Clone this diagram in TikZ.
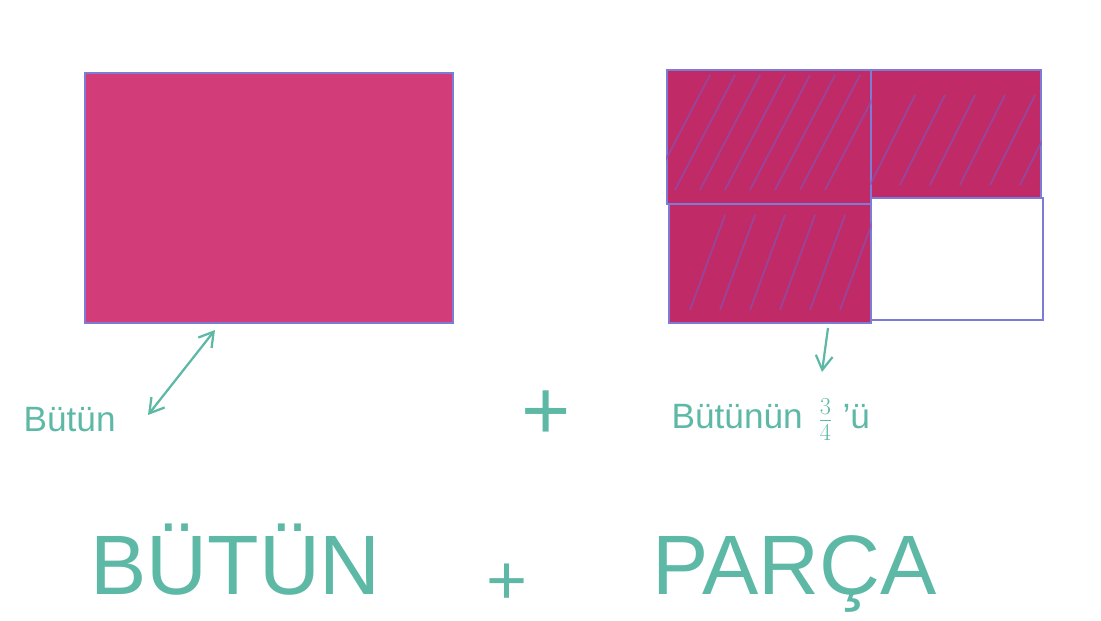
\documentclass[tikz,border=0pt]{standalone}
\usepackage{fontspec}
\setmainfont{Liberation Sans}
\usepackage{xcolor}
\usetikzlibrary{arrows.meta,positioning}

\definecolor{marker}{HTML}{D23C78}
\definecolor{markerdark}{HTML}{C02A66}
\definecolor{pencil}{HTML}{7C7CD6}
\definecolor{hatch}{HTML}{8A4FB0}
\definecolor{teal}{HTML}{5DB9A6}

\begin{document}
\begin{tikzpicture}[x=0.025cm, y=-0.025cm,
  whole/.style={draw=pencil, line width=1.2pt, fill=marker, rectangle,
                minimum width=9.2cm, minimum height=6.25cm, inner sep=0pt},
  cell/.style={draw=pencil, line width=1.2pt, rectangle, inner sep=0pt},
  done/.style={fill=markerdark},
  lbl/.style={text=teal, font=\fontsize{25}{27}\selectfont, inner sep=1pt},
  big/.style={text=teal, font=\fontsize{60}{62}\selectfont, inner sep=0pt},
  arr/.style={-{Straight Barb[length=10pt,width=12pt]}, draw=teal, line width=1.6pt}
]
\useasboundingbox (0,0) rectangle (1101,620);

% the whole
\node[whole, anchor=north west] (wholebox) at (84,72) {};

% the four quarters
\node[cell, done, anchor=north west, minimum width=5.1cm, minimum height=3.35cm] (q1) at (666,69) {};
\node[cell, done, anchor=north west, minimum width=4.25cm, minimum height=3.2cm] (q2) at (870,69) {};
\node[cell, done, anchor=north west, minimum width=5.05cm, minimum height=2.98cm] (q3) at (668,203) {};
\node[cell, anchor=north west, minimum width=4.3cm, minimum height=3.05cm] (q4) at (870,197) {};

% hatching
\begin{scope}[draw=hatch, line width=1.3pt, opacity=0.7]
  \clip (q1.north west) rectangle (q1.south east);
  \foreach \s in {690,715,...,880}
    \draw (\s-40,190) -- (\s+20,75);
\end{scope}
\begin{scope}[draw=hatch, line width=1.3pt, opacity=0.7]
  \clip (q2.north west) rectangle (q2.south east);
  \foreach \s in {890,920,...,1040}
    \draw (\s-20,185) -- (\s+25,95);
\end{scope}
\begin{scope}[draw=hatch, line width=1.3pt, opacity=0.7]
  \clip (q3.north west) rectangle (q3.south east);
  \foreach \s in {690,720,...,860}
    \draw (\s,310) -- (\s+35,215);
\end{scope}

% labels
\node[lbl, anchor=west] (wholelbl) at (22,420) {Bütün};
\node[lbl, anchor=west] (partlbl) at (670,420) {Bütünün \,$\frac{3}{4}$\;'ü};
\node[text=teal, font=\fontsize{60}{60}\selectfont] (plus) at (546,415) {+};

\coordinate (wholetip) at (215,330);
\coordinate (wholefoot) at (148,415);
\coordinate (parttop) at (828,328);
\coordinate (parttip) at (822,372);

\draw[arr, {Straight Barb[length=10pt,width=12pt]}-{Straight Barb[length=10pt,width=12pt]}] (wholefoot) -- (wholetip);
\draw[arr] (parttop) -- (parttip);

% bottom line
\node[big, anchor=base west] (bword) at (90,594) {BÜTÜN};
\node[text=teal, font=\fontsize{50}{50}\selectfont] (bplus) at (507,584) {+};
\node[big, anchor=base west] (pword) at (652,594) {PARÇA};
\end{tikzpicture}
\end{document}
